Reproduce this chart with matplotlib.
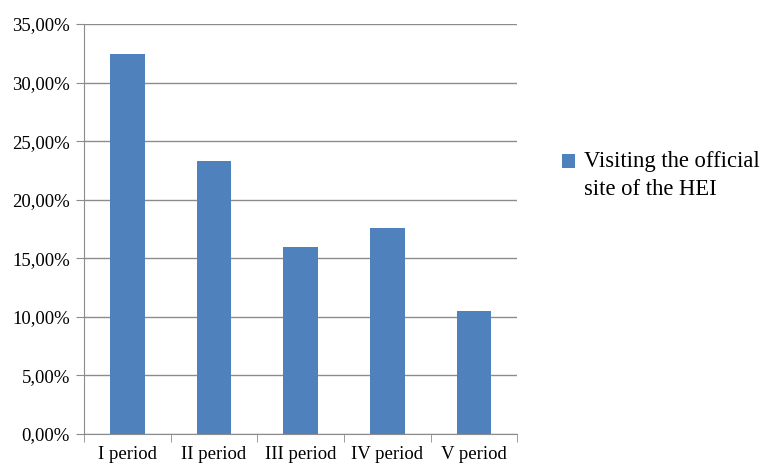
import matplotlib.pyplot as plt
import numpy as np
from matplotlib.ticker import FuncFormatter, MultipleLocator

plt.rcParams['font.family'] = ['Liberation Serif', 'DejaVu Serif']

periods = ['I period', 'II period', 'III period', 'IV period', 'V period']
visits = [32.45, 23.3, 16.0, 17.6, 10.5]
series_name = 'Visiting the official\nsite of the HEI'

bar_color = '#4f81bd'
line_color = '#8c8c8c'

fig = plt.figure(figsize=(7.63, 4.67), dpi=100)
ax = fig.add_axes([0.110, 0.0707, 0.568, 0.878])

x = np.arange(len(periods))
ax.bar(x, visits, width=0.4, color=bar_color, label=series_name, zorder=3)

ax.set_xlim(-0.5, len(periods) - 0.5)
ax.set_ylim(0, 35)
ax.yaxis.set_major_locator(MultipleLocator(5))
ax.yaxis.set_major_formatter(FuncFormatter(lambda v, p: ('%.2f' % v).replace('.', ',') + '%'))
ax.grid(axis='y', color=line_color, linewidth=1, zorder=0)

ax.set_xticks(x)
ax.set_xticklabels(periods, fontsize=13.5)
ax.set_xticks(np.arange(len(periods) + 1) - 0.5, minor=True)
ax.tick_params(axis='x', which='major', length=0, pad=9)
ax.tick_params(axis='x', which='minor', length=6, color=line_color)
ax.tick_params(axis='y', length=6, color=line_color, labelsize=13.5, pad=4)

for side in ['top', 'right']:
    ax.spines[side].set_visible(False)
for side in ['left', 'bottom']:
    ax.spines[side].set_color(line_color)

leg = fig.legend(loc='center left', bbox_to_anchor=(0.710, 0.625), frameon=False,
                 fontsize=16.3, handlelength=0.55, handleheight=0.55, handletextpad=0.4)
for t in leg.get_texts():
    t.set_linespacing(1.45)
# marker sits next to the first line of the label, like the original
h = leg.legend_handles[0]
h.set_y(h.get_y() + 10)

fig.savefig('out.png', dpi=100)
